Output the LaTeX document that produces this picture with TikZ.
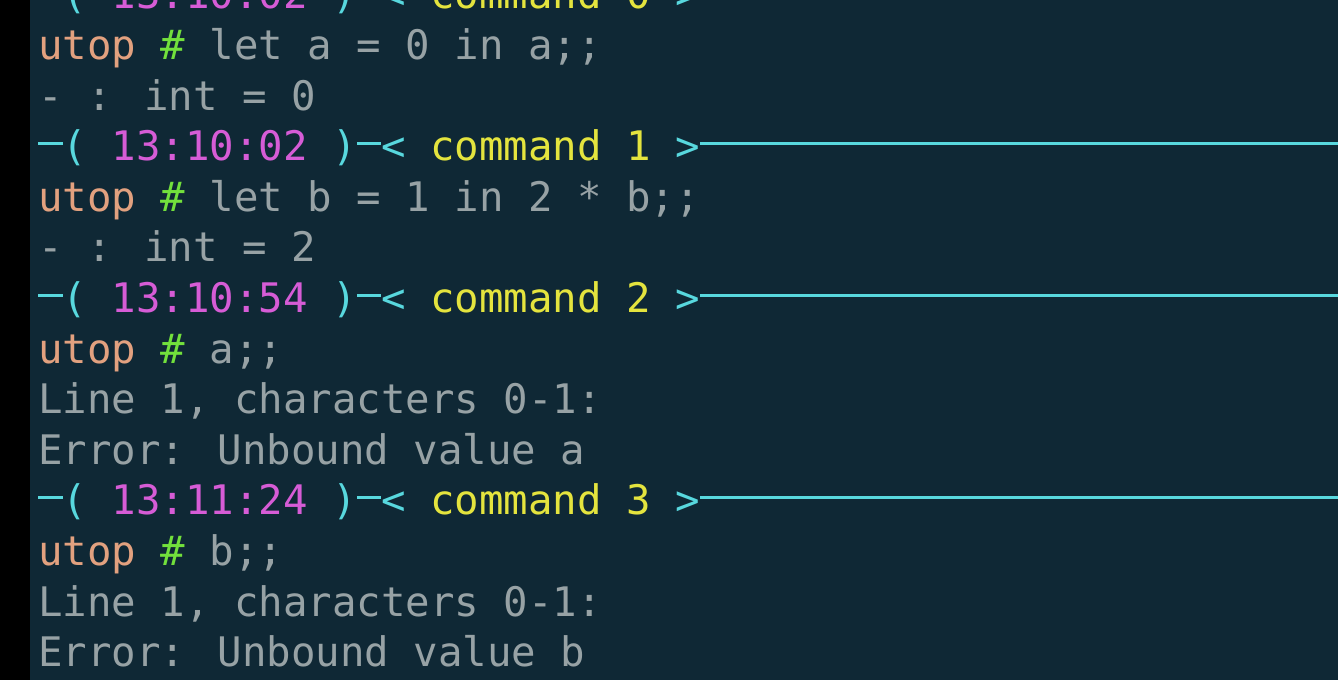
\documentclass[tikz,border=0pt]{standalone}
\usepackage{fontspec}
\newfontfamily\termfont{DejaVu Sans Mono}

\definecolor{termbg}{HTML}{0F2835}
\definecolor{peach}{HTML}{E2A17F}
\definecolor{hashgreen}{HTML}{72E03C}
\definecolor{plain}{HTML}{97A2A5}
\definecolor{stamp}{HTML}{D65CD6}
\definecolor{cmdyellow}{HTML}{E4E43E}
\definecolor{rulecyan}{HTML}{58D8DE}

\tikzset{
	term/.style={anchor=base west, inner sep=0, font=\termfont\fontsize{40.7}{50}\selectfont},
	user/.style={term, text=peach},
	hash/.style={term, text=hashgreen},
	reply/.style={term, text=plain},
	clock/.style={term, text=stamp},
	cmd/.style={term, text=cmdyellow},
	brk/.style={term, text=rulecyan},
	bar/.style={draw=rulecyan, line width=3pt}
}

\begin{document}
\begin{tikzpicture}[x=1pt,y=-1pt]
		\fill [termbg] (0,0) rectangle (1338,680);
		\fill [black] (0,0) rectangle (30,680);
		\useasboundingbox (0,0) rectangle (1338,680);
		% prompt lines
		\foreach \n/\y/\t in {0/8.9/13:10:02, 1/160.7/13:10:02, 2/312.5/13:10:54, 3/514.9/13:11:24} {
			\coordinate (start\n) at (38,\y);
			\node [brk] (open\n) at (62.5,\y) {(};
			\node [clock] (time\n) at (111.5,\y) {\t};
			\node [brk] (close\n) at (332,\y) {)};
			\node [brk] (lt\n) at (381,\y) {<};
			\node [cmd] (cmd\n) at (430,\y) {command \n};
			\node [brk] (gt\n) at (675,\y) {>};
			\coordinate (end\n) at (1338,\y);
			\draw [bar] ([yshift=17pt]start\n) -- ([yshift=17pt]open\n.base west);
			\draw [bar] ([yshift=17pt]close\n.base east) -- ([yshift=17pt]lt\n.base west);
			\draw [bar] ([yshift=17pt]gt\n.base east) -- ([yshift=17pt]end\n);
		}
		% command 0
		\node [user] (utop1) at (38,59.5) {utop};
		\node [hash] (hash1) at (160.5,59.5) {\#};
		\node [reply] (in1) at (209.5,59.5) {let a = 0 in a;;};
		\node [reply] (res1) at (38,110.1) {- : int = 0};
		% command 1
		\node [user] (utop2) at (38,211.3) {utop};
		\node [hash] (hash2) at (160.5,211.3) {\#};
		\node [reply] (in2) at (209.5,211.3) {let b = 1 in 2 * b;;};
		\node [reply] (res2) at (38,261.9) {- : int = 2};
		% command 2
		\node [user] (utop3) at (38,363.1) {utop};
		\node [hash] (hash3) at (160.5,363.1) {\#};
		\node [reply] (in3) at (209.5,363.1) {a;;};
		\node [reply] (loc3) at (38,413.7) {Line 1, characters 0-1:};
		\node [reply] (err3) at (38,464.3) {Error: Unbound value a};
		% command 3
		\node [user] (utop4) at (38,565.5) {utop};
		\node [hash] (hash4) at (160.5,565.5) {\#};
		\node [reply] (in4) at (209.5,565.5) {b;;};
		\node [reply] (loc4) at (38,616.1) {Line 1, characters 0-1:};
		\node [reply] (err4) at (38,666.7) {Error: Unbound value b};
	\end{tikzpicture}
\end{document}
